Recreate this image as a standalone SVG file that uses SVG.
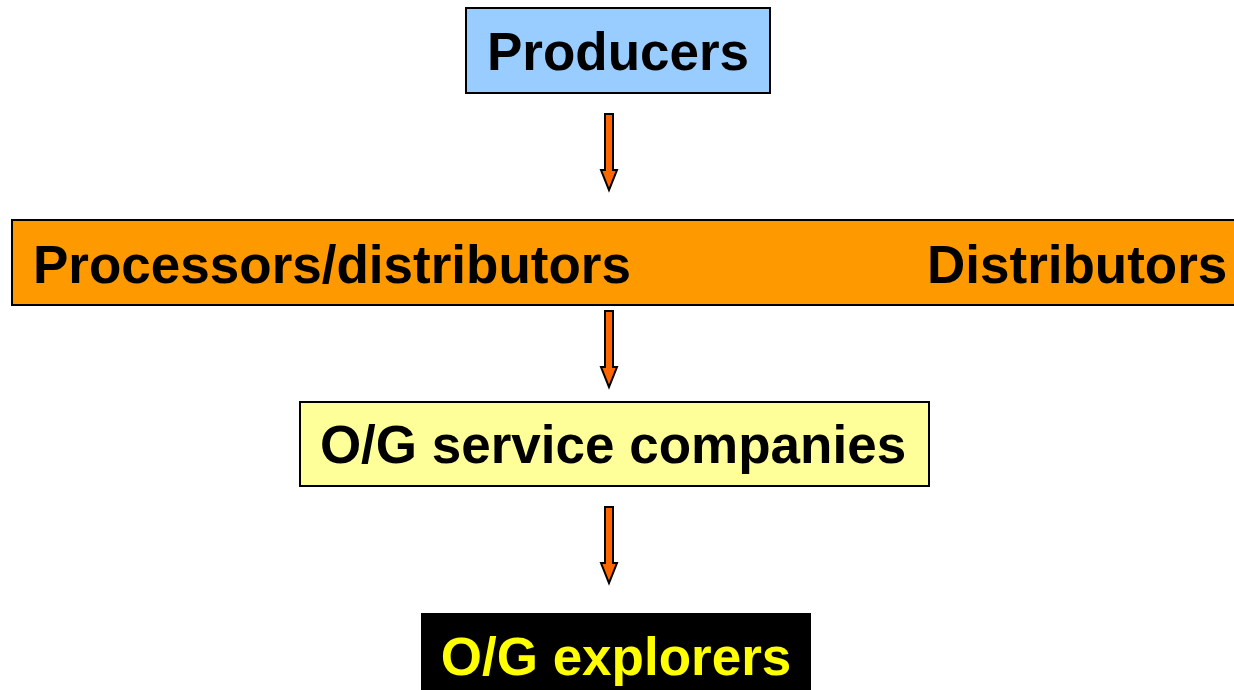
<svg xmlns="http://www.w3.org/2000/svg" width="1234" height="690" viewBox="0 0 1234 690">
<style>
.box{stroke:#000;stroke-width:2}
.t{font-family:"Liberation Sans",Arial,sans-serif;font-weight:bold;font-size:53px}
.arr{fill:#FF6600;stroke:#000;stroke-width:2;stroke-linejoin:miter}
</style>
<rect width="1234" height="690" fill="#fff"/>
<g id="producers">
<rect class="box" x="466" y="8" width="304" height="85" fill="#99CCFF"/>
<text class="t" x="618" y="70" text-anchor="middle">Producers</text>
</g>
<g id="processors">
<rect class="box" x="12" y="220" width="1232" height="85" fill="#FF9900"/>
<text class="t" x="33" y="283">Processors/distributors</text>
<text class="t" x="927" y="283">Distributors</text>
</g>
<g id="service">
<rect class="box" x="300" y="402" width="629" height="84" fill="#FFFF99"/>
<text class="t" x="613" y="463" text-anchor="middle">O/G service companies</text>
</g>
<g id="explorers">
<rect x="421" y="613" width="390" height="80" fill="#000"/>
<text class="t" x="616" y="675" text-anchor="middle" fill="#FFFF00">O/G explorers</text>
</g>
<g id="connectors">
<path class="arr" d="M605,114 H613 V170 H617 L609,190 L601,170 H605 Z"/>
<path class="arr" d="M605,311 H613 V367 H617 L609,387 L601,367 H605 Z"/>
<path class="arr" d="M605,507 H613 V563 H617 L609,583 L601,563 H605 Z"/>
</g>
</svg>
